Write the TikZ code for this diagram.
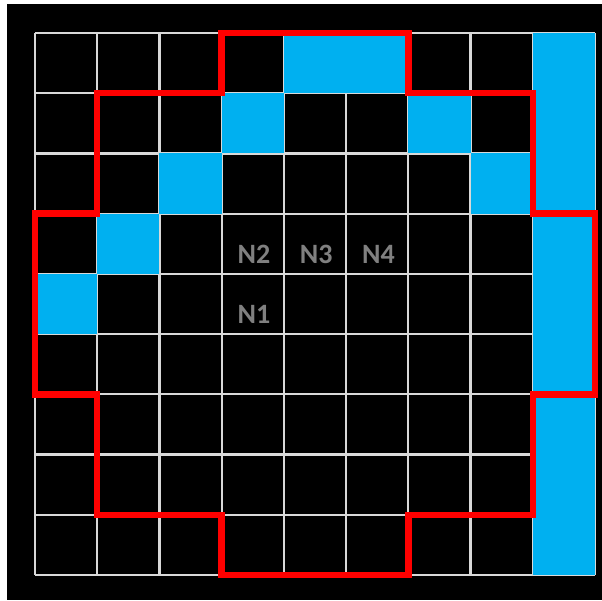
\documentclass[tikz,border=0pt]{standalone}
\usepackage{fontspec}
\setmainfont{Carlito}
\definecolor{cellblue}{HTML}{00B0F0}
\definecolor{gridgray}{HTML}{D9D9D9}
\definecolor{labelgray}{HTML}{808080}
\definecolor{bordred}{HTML}{FF0000}
\tikzset{
  gridline/.style={draw=gridgray, line width=2.2pt},
  bluecell/.style={fill=cellblue},
  redborder/.style={draw=bordred, line width=6.5pt, line join=miter},
  cellLabel/.style={text=labelgray, font=\bfseries\fontsize{28}{28}\selectfont, inner sep=0pt}
}
\begin{document}
\begin{tikzpicture}[x=1pt,y=-1pt]
\useasboundingbox (0,0) rectangle (602,600);
\fill[white] (0,0) rectangle (602,600);
\fill[black] (7,4) rectangle (602,600);
\begin{scope}[shift={(35,33)}, x=62.222pt, y=-60.222pt]
  % grid
  \foreach \i in {0,...,9} {
    \draw[gridline] (\i,0) -- (\i,9);
    \draw[gridline] (0,\i) -- (9,\i);
  }
  % blue cells
  \foreach \c/\r in {4/0,5/0,3/1,6/1,2/2,7/2,1/3,0/4} {
    \fill[bluecell] (\c,\r) rectangle ++(1,1);
  }
  \fill[bluecell] (8,0) rectangle (9,9);
  % red border
  \draw[redborder] (3,0) -- (6,0) -- (6,1) -- (8,1) -- (8,3) -- (9,3) -- (9,6) -- (8,6) -- (8,8) -- (6,8) -- (6,9) -- (3,9) -- (3,8) -- (1,8) -- (1,6) -- (0,6) -- (0,3) -- (1,3) -- (1,1) -- (3,1) -- cycle;
  % labels
  \node[cellLabel] (n2) at (3.52,3.67) {N2};
  \node[cellLabel] (n3) at (4.52,3.67) {N3};
  \node[cellLabel] (n4) at (5.52,3.67) {N4};
  \node[cellLabel] (n1) at (3.52,4.67) {N1};
\end{scope}
\end{tikzpicture}
\end{document}
